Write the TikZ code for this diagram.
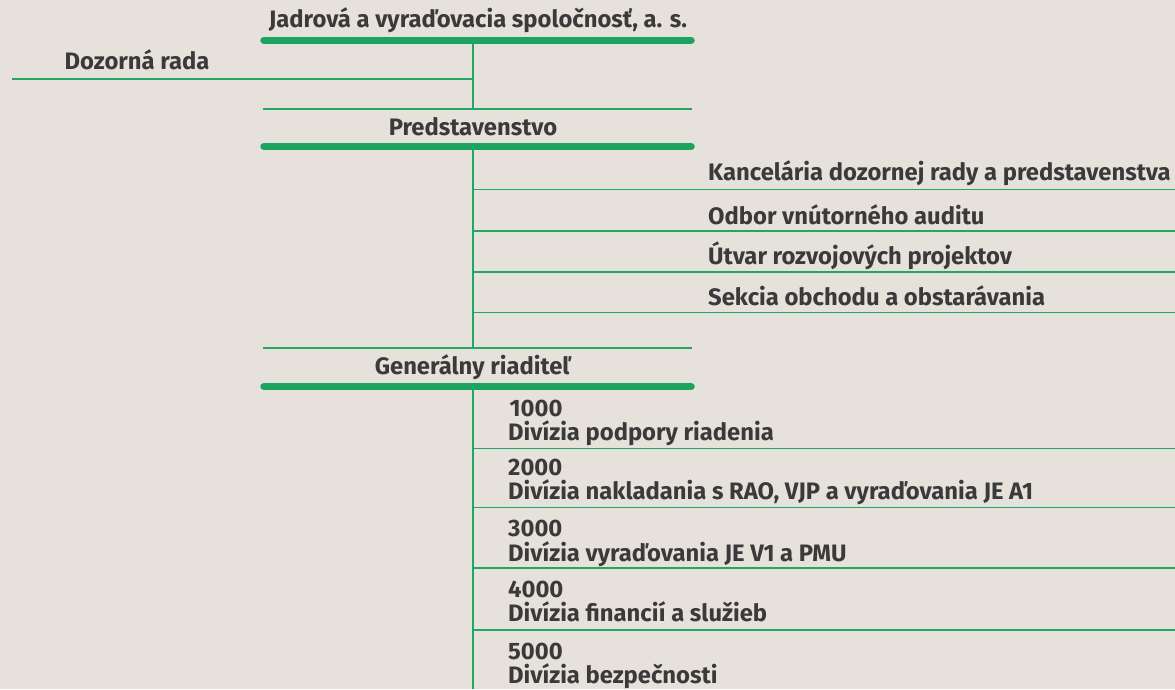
\documentclass[tikz,border=0pt]{standalone}
\usepackage{fontspec}
\setmainfont{Fira Sans}
\definecolor{bg}{HTML}{E6E2DB}
\definecolor{grn}{HTML}{1BA35F}
\definecolor{lgrn}{HTML}{22A763}
\definecolor{txt}{HTML}{3A3A3A}
\tikzset{
  lbl/.style={anchor=base west, inner sep=0pt, font=\fontsize{23.8}{24}\selectfont\bfseries, text=txt},
  clbl/.style={lbl, anchor=base},
  bar/.style={draw=grn, line width=7.5pt, line cap=round},
  thinline/.style={draw=lgrn, line width=1.6pt},
}
\begin{document}
\begin{tikzpicture}[x=1pt,y=-1pt]
\fill[bg] (0,0) rectangle (1175,689);
\useasboundingbox (0,0) rectangle (1175,689);

% ---- company
\node[clbl] (jav) at (478,27.5) {Jadrová a vyraďovacia spoločnosť, a. s.};
\coordinate (b1l) at (264,40.3);
\coordinate (b1r) at (691,40.3);
\coordinate (b1m) at (473,40.3);
\draw[bar] (b1l) -- (b1r);

% ---- supervisory board
\node[clbl] (dr) at (137,69) {Dozorná rada};
\coordinate (drl) at (12,78.7);
\coordinate (drr) at (473,78.7);
\draw[thinline] (drl) -- (drr);

% ---- board
\coordinate (p0l) at (263,109);
\coordinate (p0r) at (692,109);
\coordinate (p0m) at (473,109);
\draw[thinline] (p0l) -- (p0r);
\draw[thinline] (b1m) -- (p0m);
\node[clbl] (pr) at (473,135.5) {Predstavenstvo};
\coordinate (b2l) at (264,146.5);
\coordinate (b2r) at (691,146.5);
\coordinate (b2m) at (473,146.5);
\draw[bar] (b2l) -- (b2r);

% ---- staff units
\node[lbl] (k1) at (708,180) {Kancelária dozornej rady a predstavenstva};
\coordinate (k1l) at (473,189.3); \coordinate (k1r) at (1175,189.3);
\draw[thinline] (k1l) -- (k1r);
\node[lbl] (k2) at (708,224) {Odbor vnútorného auditu};
\coordinate (k2l) at (473,231); \coordinate (k2r) at (1175,231);
\draw[thinline] (k2l) -- (k2r);
\node[lbl] (k3) at (708,264.5) {Útvar rozvojových projektov};
\coordinate (k3l) at (473,271.7); \coordinate (k3r) at (1175,271.7);
\draw[thinline] (k3l) -- (k3r);
\node[lbl] (k4) at (708,305.5) {Sekcia obchodu a obstarávania};
\coordinate (k4l) at (473,312.3); \coordinate (k4r) at (1175,312.3);
\draw[thinline] (k4l) -- (k4r);

% ---- general director
\coordinate (g0l) at (263,347.7);
\coordinate (g0r) at (692,347.7);
\coordinate (g0m) at (473,347.7);
\draw[thinline] (g0l) -- (g0r);
\draw[thinline] (b2m) -- (g0m);
\node[clbl] (gr) at (473,374.5) {Generálny riaditeľ};
\coordinate (b3l) at (264,386.7);
\coordinate (b3r) at (691,386.7);
\coordinate (b3m) at (473,386.7);
\draw[bar] (b3l) -- (b3r);
\coordinate (bot) at (473,689);
\draw[thinline] (b3m) -- (bot);

% ---- divisions
\node[lbl] (d1n) at (509.5,416.7) {1000};
\node[lbl] (d1t) at (508,440.7) {Divízia podpory riadenia};
\coordinate (d1l) at (473,448.3); \coordinate (d1r) at (1175,448.3);
\draw[thinline] (d1l) -- (d1r);
\node[lbl] (d2n) at (508,475) {2000};
\node[lbl] (d2t) at (508,499.3) {Divízia nakladania s RAO, VJP a vyraďovania JE A1};
\coordinate (d2l) at (473,507.3); \coordinate (d2r) at (1175,507.3);
\draw[thinline] (d2l) -- (d2r);
\node[lbl] (d3n) at (508,536.7) {3000};
\node[lbl] (d3t) at (508,561.2) {Divízia vyraďovania JE V1 a PMU};
\coordinate (d3l) at (473,568); \coordinate (d3r) at (1175,568);
\draw[thinline] (d3l) -- (d3r);
\node[lbl] (d4n) at (508,597.3) {4000};
\node[lbl] (d4t) at (508,621.7) {Divízia financií a služieb};
\coordinate (d4l) at (473,630); \coordinate (d4r) at (1175,630);
\draw[thinline] (d4l) -- (d4r);
\node[lbl] (d5n) at (508,659.3) {5000};
\node[lbl] (d5t) at (508,683.3) {Divízia bezpečnosti};
\end{tikzpicture}
\end{document}
